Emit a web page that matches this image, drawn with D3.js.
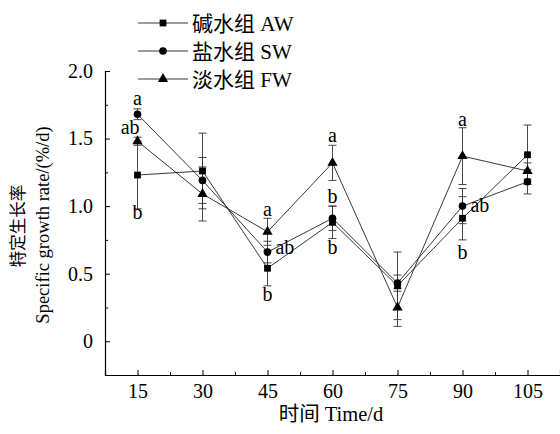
<!DOCTYPE html>
<html><head><meta charset="utf-8">
<script src="https://cdn.jsdelivr.net/npm/d3@7"></script>
<style>body{margin:0;background:#fff}svg{display:block}text{font-family:"Liberation Serif","Times New Roman","Noto Sans CJK SC",serif;fill:#000}</style>
</head><body><svg id="c" width="560" height="434"></svg>
<script>
const days = [15, 30, 45, 60, 75, 90, 105];
const seriesNames = ["碱水组 AW", "盐水组 SW", "淡水组 FW"];
const awVals = [1.23, 1.26, 0.54, 0.88, 0.41, 0.91, 1.38];
const awErr  = [0.25, 0.28, 0.13, 0.12, 0.25, 0.16, 0.22];
const swVals = [1.68, 1.19, 0.66, 0.91, 0.43, 1.00, 1.18];
const swErr  = [0.04, 0.17, 0.08, 0.09, 0.06, 0.13, 0.09];
const fwVals = [1.48, 1.09, 0.81, 1.32, 0.25, 1.37, 1.26];
const fwErr  = [0.03, 0.20, 0.10, 0.13, 0.14, 0.21, 0.06];
const yTicks = [0, 0.5, 1.0, 1.5, 2.0];
const yTickLabels = ["0", "0.5", "1.0", "1.5", "2.0"];
// significance letters: day, value position, text
const letterDays = [15, 13.3, 15, 45, 49.0, 45, 60, 60, 60, 90, 94.0, 90];
const letterVals = [1.79, 1.58, 0.95, 0.97, 0.69, 0.34, 1.52, 1.07, 0.69, 1.64, 1.00, 0.65];
const letterText = ["a", "ab", "b", "a", "ab", "b", "a", "b", "b", "a", "ab", "b"];

const svg = d3.select("#c");
const x = d3.scaleLinear().domain([7.5, 112.5]).range([105, 560]);
const y = d3.scaleLinear().domain([-0.25, 2.0]).range([375, 71]);

// axes
const xAxis = d3.axisBottom(x).tickValues(days).tickSize(-5).tickPadding(9).tickFormat(d3.format("d"));
const gx = svg.append("g").attr("transform", "translate(0,375)").call(xAxis);
gx.selectAll("text").attr("font-size", 20).attr("dy", "0.71em");
const gxm = svg.append("g").attr("transform", "translate(0,375)")
  .call(d3.axisBottom(x).tickValues(d3.range(22.5, 112, 15)).tickSize(-3).tickFormat(""));
gxm.select(".domain").remove();

const yAxis = d3.axisLeft(y).tickValues(yTicks).tickSize(-5).tickPadding(12)
  .tickFormat((d, i) => yTickLabels[i]);
const gy = svg.append("g").attr("transform", "translate(105,0)").call(yAxis);
gy.selectAll("text").attr("font-size", 20);
const gym = svg.append("g").attr("transform", "translate(105,0)")
  .call(d3.axisLeft(y).tickValues([0.25, 0.75, 1.25, 1.75]).tickSize(-3).tickFormat(""));
gym.select(".domain").remove();
svg.selectAll(".domain").attr("stroke", "#000").attr("stroke-width", 1.2);
svg.selectAll(".tick line").attr("stroke", "#000");

// series
const series = [
  {name: seriesNames[0], vals: awVals, err: awErr, sym: d3.symbolSquare, size: 46},
  {name: seriesNames[1], vals: swVals, err: swErr, sym: d3.symbolCircle, size: 46},
  {name: seriesNames[2], vals: fwVals, err: fwErr, sym: d3.symbolTriangle, size: 46}
];
const line = d3.line().x((d, i) => x(days[i])).y(d => y(d));

series.forEach(s => {
  const g = svg.append("g");
  g.append("path").attr("d", line(s.vals)).attr("fill", "none").attr("stroke", "#222").attr("stroke-width", 0.9);
  s.vals.forEach((v, i) => {
    const cx = x(days[i]), top = y(v + s.err[i]), bot = y(v - s.err[i]);
    g.append("line").attr("x1", cx).attr("x2", cx).attr("y1", top).attr("y2", bot).attr("stroke", "#333").attr("stroke-width", 0.9);
    [top, bot].forEach(yy => g.append("line").attr("x1", cx - 4).attr("x2", cx + 4).attr("y1", yy).attr("y2", yy).attr("stroke", "#333").attr("stroke-width", 0.9));
  });
});
series.forEach(s => {
  svg.append("g").selectAll("path").data(s.vals).join("path")
    .attr("transform", (d, i) => `translate(${x(days[i])},${y(d)})`)
    .attr("d", d3.symbol().type(s.sym).size(s.size)).attr("fill", "#000");
});

// letters
svg.append("g").selectAll("text").data(letterText).join("text")
  .attr("x", (d, i) => x(letterDays[i])).attr("y", (d, i) => y(letterVals[i]))
  .attr("text-anchor", "middle").attr("dy", "0.3em").attr("font-size", 20).text(d => d);

// legend
const leg = svg.append("g");
series.forEach((s, i) => {
  const ly = 23 + i * 28;
  leg.append("line").attr("x1", 138).attr("x2", 188).attr("y1", ly).attr("y2", ly).attr("stroke", "#222").attr("stroke-width", 0.9);
  leg.append("path").attr("transform", `translate(163,${ly})`).attr("d", d3.symbol().type(s.sym).size(s.size)).attr("fill", "#000");
  leg.append("text").attr("x", 192).attr("y", ly).attr("dy", "0.36em").attr("font-size", 21).text(s.name);
});

// axis titles
svg.append("text").attr("x", 331).attr("y", 421).attr("text-anchor", "middle").attr("font-size", 20.5).text("时间 Time/d");
svg.append("text").attr("transform", "translate(24,226) rotate(-90)").attr("text-anchor", "middle").attr("font-size", 16.5).text("特定生长率");
svg.append("text").attr("transform", "translate(49,225) rotate(-90)").attr("text-anchor", "middle").attr("font-size", 18.5).text("Specific growth rate/(%/d)");
</script></body></html>
